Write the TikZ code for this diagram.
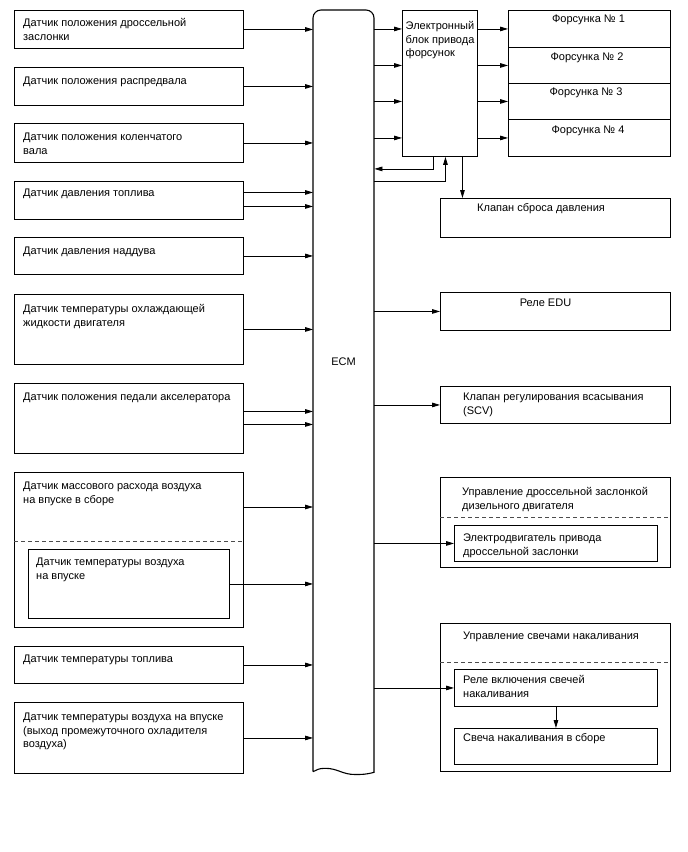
\documentclass[tikz,border=0pt]{standalone}
\usepackage{fontspec}
\setmainfont{Liberation Sans}
\usetikzlibrary{arrows.meta}
\newcommand{\dfont}{\fontsize{11}{13.2}\selectfont}
\begin{document}
\begin{tikzpicture}[x=1pt,y=-1pt,
  box/.style={draw, line width=0.9pt, inner sep=0pt, anchor=north west},
  txt/.style={font=\dfont, align=left, anchor=north west, inner sep=0pt},
  ctxt/.style={font=\dfont, anchor=north, inner sep=0pt},
  arr/.style={line width=0.8pt, -{Triangle[length=8pt,width=4.6pt]}},
  sep/.style={line width=0.7pt, black!70, dash pattern=on 4pt off 3pt}]
\useasboundingbox (0,0) rectangle (688,852);
% left sensors
\node[box, minimum width=229, minimum height=38] (s1) at (14,10) {};
\node[txt] (t1) at (23,17.4) {\strut Датчик положения дроссельной\\заслонки};
\node[box, minimum width=229, minimum height=38] (s2) at (14,67) {};
\node[txt] (t2) at (23,75.4) {\strut Датчик положения распредвала};
\node[box, minimum width=229, minimum height=39] (s3) at (14,123) {};
\node[txt] (t3) at (23,131.4) {\strut Датчик положения коленчатого\\вала};
\node[box, minimum width=229, minimum height=38] (s4) at (14,181) {};
\node[txt] (t4) at (23,187.4) {\strut Датчик давления топлива};
\node[box, minimum width=229, minimum height=37] (s5) at (14,237) {};
\node[txt] (t5) at (23,245.4) {\strut Датчик давления наддува};
\node[box, minimum width=229, minimum height=70] (s6) at (14,294) {};
\node[txt] (t6) at (23,303.4) {\strut Датчик температуры охлаждающей\\жидкости двигателя};
\node[box, minimum width=229, minimum height=70] (s7) at (14,383) {};
\node[txt] (t7) at (23,391.4) {\strut Датчик положения педали акселератора};
\node[box, minimum width=229, minimum height=155] (s8) at (14,472) {};
\node[txt] (t8) at (23,480.4) {\strut Датчик массового расхода воздуха\\на впуске в сборе};
\draw[sep] (s8.west |- 0,541) coordinate (d8a) -- (d8a -| s8.east);
\node[box, minimum width=201, minimum height=69] (s8i) at (28,549) {};
\node[txt] (t8i) at (36,556.4) {\strut Датчик температуры воздуха\\на впуске};
\node[box, minimum width=229, minimum height=37] (s9) at (14,646) {};
\node[txt] (t9) at (23,653.4) {\strut Датчик температуры топлива};
\node[box, minimum width=229, minimum height=71] (s10) at (14,702) {};
\node[txt] (t10) at (23,711.4) {\strut Датчик температуры воздуха на впуске\\(выход промежуточного охладителя\\воздуха)};
% ECM
\node[inner sep=0pt, minimum width=61, minimum height=762, anchor=north west] (ecm) at (313,10) {};
\draw[line width=1.1pt] (313,771.7) -- (313,18) .. controls (313,13.6) and (316.6,10) .. (321,10)
  -- (366,10) .. controls (370.4,10) and (374,13.6) .. (374,18) -- (374,772.3)
  .. controls (366,774.5) and (362,774.5) .. (355,774.5)
  .. controls (342,774.5) and (338,768.3) .. (325,768.3)
  .. controls (319,768.3) and (316,770) .. (313,771.7);
\node[font=\dfont, inner sep=0pt] (ecmlabel) at (343.5,362) {ECM};
% injector driver
\node[box, minimum width=75, minimum height=146] (ebu) at (402,10) {};
\node[txt] (tebu) at (405.5,20.4) {\strut Электронный\\блок привода\\форсунок};
\node[box, minimum width=162, minimum height=37] (inj1) at (508,10) {};
\node[box, minimum width=162, minimum height=36] (inj2) at (508,47) {};
\node[box, minimum width=162, minimum height=36] (inj3) at (508,83) {};
\node[box, minimum width=162, minimum height=37] (inj4) at (508,119) {};
\node[ctxt] (ti1) at (588.5,13.4) {\strut Форсунка № 1};
\node[ctxt] (ti2) at (587,51) {\strut Форсунка № 2};
\node[ctxt] (ti3) at (586,86.4) {\strut Форсунка № 3};
\node[ctxt] (ti4) at (588,124.4) {\strut Форсунка № 4};
% right outputs
\node[box, minimum width=230, minimum height=39] (kl) at (440,198) {};
\node[txt] (tkl) at (477,202.4) {\strut Клапан сброса давления};
\node[box, minimum width=230, minimum height=38] (edu) at (440,292) {};
\node[ctxt] (tedu) at (545.5,297.4) {\strut Реле EDU};
\node[box, minimum width=230, minimum height=37] (scv) at (440,386) {};
\node[txt] (tscv) at (463,391.4) {\strut Клапан регулирования всасывания\\(SCV)};
\node[box, minimum width=230, minimum height=90] (thr) at (440,477) {};
\node[txt] (tthr) at (462,486.4) {\strut Управление дроссельной заслонкой\\дизельного двигателя};
\draw[sep] (thr.west |- 0,517) coordinate (dta) -- (dta -| thr.east);
\node[box, minimum width=203, minimum height=36] (thi) at (454,525) {};
\node[txt] (tthi) at (463,532.4) {\strut Электродвигатель привода\\дроссельной заслонки};
\node[box, minimum width=230, minimum height=148] (glow) at (440,623) {};
\node[txt] (tglow) at (463,630.4) {\strut Управление свечами накаливания};
\draw[sep] (glow.west |- 0,662) coordinate (dga) -- (dga -| glow.east);
\node[box, minimum width=203, minimum height=37] (gi1) at (454,669) {};
\node[txt] (tgi1) at (463,674.4) {\strut Реле включения свечей\\накаливания};
\node[box, minimum width=203, minimum height=36] (gi2) at (454,728) {};
\node[txt] (tgi2) at (463,732.4) {\strut Свеча накаливания в сборе};
% connectors: sensors -> ECM
\draw[arr] (s1.east) -- (s1.east -| ecm.west);
\draw[arr] (s2.east) -- (s2.east -| ecm.west);
\draw[arr] (s3.east) -- (s3.east -| ecm.west);
\draw[arr] ([yshift=8pt]s4.east) -- ([yshift=8pt]s4.east -| ecm.west);
\draw[arr] ([yshift=-6pt]s4.east) -- ([yshift=-6pt]s4.east -| ecm.west);
\draw[arr] (s5.east) -- (s5.east -| ecm.west);
\draw[arr] (s6.east) -- (s6.east -| ecm.west);
\draw[arr] ([yshift=7pt]s7.east) -- ([yshift=7pt]s7.east -| ecm.west);
\draw[arr] ([yshift=-6pt]s7.east) -- ([yshift=-6pt]s7.east -| ecm.west);
\draw[arr] ([yshift=-35pt]s8.north east) -- ([yshift=-35pt]s8.north east -| ecm.west);
\draw[arr] (s8i.east) -- (s8i.east -| ecm.west);
\draw[arr] (s9.east) -- (s9.east -| ecm.west);
\draw[arr] (s10.east) -- (s10.east -| ecm.west);
% ECM -> driver -> injectors
\foreach \i in {1,2,3,4}{
  \draw[arr] (ecm.east |- inj\i.west) -- (ebu.west |- inj\i.west);
  \draw[arr] (ebu.east |- inj\i.west) -- (inj\i.west);
}
% feedback
\draw[arr] ([xshift=-6.5pt]ebu.south) -- ([xshift=-6.5pt,yshift=-12pt]ebu.south) -- ([yshift=-12pt]ebu.south -| ecm.east);
\draw[arr] ([yshift=-24pt]ebu.south -| ecm.east) -- ([xshift=5.5pt,yshift=-24pt]ebu.south) -- ([xshift=5.5pt]ebu.south);
\draw[arr] ([xshift=22.5pt]ebu.south) -- ([xshift=22.5pt]ebu.south |- kl.north);
% ECM -> outputs
\draw[arr] (ecm.east |- edu.west) -- (edu.west);
\draw[arr] (ecm.east |- scv.west) -- (scv.west);
\draw[arr] (ecm.east |- thi.west) -- (thi.west);
\draw[arr] (ecm.east |- gi1.west) -- (gi1.west);
\draw[arr] (gi1.south) -- (gi2.north);
\end{tikzpicture}
\end{document}
